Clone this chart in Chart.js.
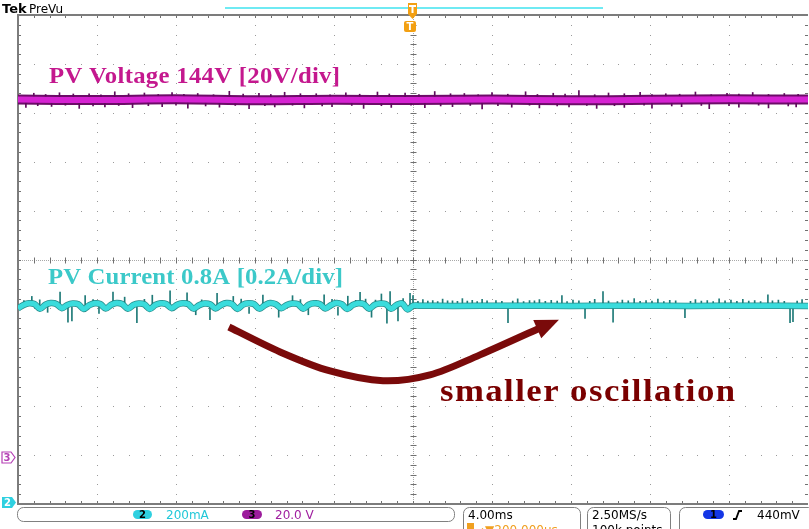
<!DOCTYPE html>
<html>
<head>
<meta charset="utf-8">
<script src="https://cdn.jsdelivr.net/npm/chart.js@4.4.1/dist/chart.umd.min.js"></script>
<style>
  html, body { margin: 0; padding: 0; background: #fff; }
  #scope { display: block; }
</style>
</head>
<body>
<canvas id="scope" width="809" height="529"></canvas>
<script>
// ---- scope settings ----
const msPerDiv = 4;          // 4.00ms
const voltsPerDiv = 20;      // ch3 20.0 V
const ampsPerDiv = 0.2;      // ch2 200mA
const ch3Offset = -3.94;     // divisions
const ch2Offset = -4.93;

// ---- ch3 : PV voltage (V) ----
const voltTimes  = [-20, -16, -12, -8, -4, 0, 4, 8, 12, 16, 20];
const voltValues = [144.2, 144.0, 144.3, 143.9, 144.1, 144.0, 144.2, 143.9, 144.1, 144.3, 144.2];
// noise spikes [time, low, high]
const voltSpikes = [
  [-19.2,144,146.8],[-17.9,144,147.0],[-16.4,144,146.6],[-15.1,144,147.4],[-13.6,144,146.9],
  [-12.2,144,147.1],[-10.9,144,146.7],[-9.3,144,147.6],[-7.8,144,146.8],[-6.5,144,147.2],
  [-4.9,144,146.6],[-3.4,144,147.0],[-1.8,144,147.3],[-0.4,144,146.9],[1.1,144,147.5],
  [2.6,144,146.7],[4.0,144,147.1],[5.7,144,147.4],[7.1,144,146.8],[8.4,144,147.9],
  [9.9,144,146.9],[11.5,144,147.2],[12.8,144,146.6],[14.3,144,147.3],[15.9,144,146.8],
  [17.2,144,147.1],[18.8,144,146.7],
  [-18.6,144,146.3],[-17.2,144,146.5],[-15.8,144,146.2],[-14.4,144,146.6],[-12.9,144,146.3],
  [-11.6,144,146.4],[-10.1,144,146.2],[-8.6,144,146.5],[-7.2,144,146.3],[-5.7,144,146.6],
  [-4.2,144,146.2],[-2.7,144,146.4],[-1.2,144,146.5],[0.3,144,146.3],[1.9,144,146.6],
  [3.3,144,146.2],[4.8,144,146.4],[6.3,144,146.3],[7.7,144,146.5],[9.2,144,146.2],
  [10.7,144,146.6],[12.1,144,146.3],[13.5,144,146.4],[15.1,144,146.2],[16.5,144,146.5],
  [18.0,144,146.3],[19.5,144,146.4],
  [-19.6,141.0,144],[-18.3,141.4,144],[-16.9,140.6,144],[-15.6,141.2,144],[-14.2,140.9,144],
  [-12.7,141.3,144],[-11.4,140.7,144],[-9.8,141.1,144],[-8.3,140.5,144],[-7.0,141.2,144],
  [-5.5,140.8,144],[-4.1,141.3,144],[-2.5,140.6,144],[-1.1,141.0,144],[0.6,140.9,144],
  [2.0,141.3,144],[3.5,140.4,144],[5.0,141.1,144],[6.4,140.8,144],[7.9,141.2,144],
  [9.3,140.6,144],[10.7,141.0,144],[12.1,140.7,144],[13.6,141.3,144],[15.0,140.5,144],
  [16.5,141.1,144],[18.0,140.8,144],[19.4,141.2,144],
  [-19.0,141.7,144],[-17.6,141.9,144],[-16.2,141.6,144],[-14.9,141.8,144],[-13.4,141.7,144],
  [-12.0,141.9,144],[-10.5,141.6,144],[-9.0,141.8,144],[-7.5,141.7,144],[-6.1,141.9,144],
  [-4.6,141.6,144],[-3.1,141.8,144],[-1.6,141.7,144],[-0.1,141.9,144],[1.4,141.6,144],
  [2.9,141.8,144],[4.3,141.7,144],[5.9,141.9,144],[7.3,141.6,144],[8.8,141.8,144],
  [10.2,141.7,144],[11.7,141.9,144],[13.1,141.6,144],[14.6,141.8,144],[16.0,141.7,144],
  [17.5,141.9,144],[19.0,141.6,144]
];

// ---- ch2 : PV current (A) ----
const currTimes = [
  -20.00,-19.72,-19.45,-19.17, -18.89,-18.61,-18.34,-18.06, -17.78,-17.50,-17.23,-16.95,
  -16.67,-16.39,-16.12,-15.84, -15.56,-15.28,-15.01,-14.73, -14.44,-14.16,-13.89,-13.61,
  -13.33,-13.05,-12.78,-12.50, -12.22,-11.94,-11.67,-11.39, -11.11,-10.83,-10.56,-10.28,
  -10.00,-9.72,-9.45,-9.17, -8.89,-8.61,-8.34,-8.06, -7.78,-7.50,-7.23,-6.95,
  -6.67,-6.39,-6.12,-5.84, -5.56,-5.28,-5.01,-4.73, -4.44,-4.16,-3.89,-3.61,
  -3.33,-3.05,-2.78,-2.50, -2.22,-1.94,-1.67,-1.39, -1.11,-0.83,-0.56,-0.28,
  0.00, 0.30, 2, 5, 8, 11, 14, 17, 20
];
const currValues = [
  0.786,0.800,0.807,0.804, 0.785,0.801,0.808,0.804, 0.787,0.800,0.806,0.803,
  0.784,0.799,0.807,0.804, 0.786,0.801,0.808,0.804, 0.785,0.800,0.806,0.803,
  0.784,0.800,0.807,0.804, 0.787,0.801,0.807,0.804, 0.785,0.799,0.806,0.803,
  0.786,0.800,0.808,0.804, 0.784,0.801,0.807,0.804, 0.785,0.799,0.808,0.803,
  0.787,0.800,0.806,0.804, 0.785,0.801,0.807,0.804, 0.786,0.799,0.808,0.803,
  0.784,0.800,0.807,0.804, 0.785,0.801,0.806,0.804, 0.785,0.800,0.807,0.782,
  0.797, 0.797, 0.796, 0.797, 0.796, 0.797, 0.796, 0.797, 0.796
];
const currSpikes = [
  [-19.3,0.800,0.835],[-18.5,0.770,0.800],[-17.87,0.800,0.853],[-17.47,0.730,0.790],[-17.27,0.735,0.790],
  [-16.6,0.800,0.838],[-15.9,0.765,0.790],[-15.19,0.800,0.853],[-14.6,0.800,0.832],[-13.98,0.728,0.790],
  [-13.2,0.800,0.840],[-12.30,0.800,0.858],[-11.44,0.800,0.850],[-11.0,0.760,0.790],[-10.28,0.740,0.790],
  [-9.92,0.800,0.848],[-9.1,0.800,0.835],[-8.3,0.765,0.790],[-7.6,0.800,0.840],[-6.8,0.750,0.790],
  [-6.1,0.800,0.838],[-5.3,0.760,0.790],[-4.5,0.800,0.842],[-3.8,0.758,0.790],[-3.3,0.800,0.836],
  [-2.68,0.800,0.852],[-2.1,0.750,0.790],[-1.6,0.800,0.845],[-1.32,0.726,0.790],[-1.16,0.800,0.855],
  [-0.76,0.735,0.790],[-0.15,0.800,0.848],
  [-19.7,0.800,0.818],[-18.9,0.800,0.821],[-18.1,0.800,0.816],[-16.2,0.800,0.822],[-14.9,0.800,0.818],
  [-13.6,0.800,0.823],[-12.7,0.800,0.817],[-10.7,0.800,0.821],[-9.5,0.800,0.819],[-8.7,0.800,0.824],
  [-7.2,0.800,0.818],[-5.7,0.800,0.822],[-4.9,0.800,0.817],[-4.1,0.800,0.823],[-2.9,0.800,0.819],
  [-2.4,0.800,0.824],[-1.9,0.800,0.820],[-0.5,0.800,0.826],
  [0.0,0.796,0.838],[0.5,0.796,0.822],[1.0,0.796,0.818],[1.5,0.796,0.824],[2.0,0.796,0.817],
  [2.5,0.796,0.826],[3.0,0.796,0.819],[3.5,0.796,0.823],[4.2,0.796,0.818],[4.81,0.728,0.790],
  [5.3,0.796,0.825],[5.9,0.796,0.818],[6.4,0.796,0.822],[7.0,0.796,0.819],[7.54,0.796,0.838],
  [8.1,0.796,0.820],[8.71,0.745,0.790],[9.2,0.796,0.823],[9.62,0.796,0.855],[10.13,0.730,0.790],
  [10.6,0.796,0.820],[11.2,0.796,0.826],[11.8,0.796,0.818],[12.4,0.796,0.824],[13.0,0.796,0.819],
  [13.77,0.748,0.790],[14.3,0.796,0.822],[14.9,0.796,0.818],[15.5,0.796,0.825],[16.1,0.796,0.820],
  [16.7,0.796,0.823],[17.3,0.796,0.818],[17.97,0.796,0.842],[18.5,0.796,0.820],[19.09,0.728,0.790],
  [19.24,0.732,0.790],[19.7,0.796,0.822],
  [0.25,0.796,0.815],[0.75,0.796,0.816],[1.25,0.796,0.814],[1.75,0.796,0.817],[2.25,0.796,0.815],
  [2.75,0.796,0.816],[3.25,0.796,0.814],[3.75,0.796,0.817],[4.5,0.796,0.815],[5.05,0.796,0.816],
  [5.6,0.796,0.814],[6.15,0.796,0.817],[6.7,0.796,0.815],[7.3,0.796,0.816],[7.8,0.796,0.814],
  [8.4,0.796,0.817],[8.95,0.796,0.815],[9.9,0.796,0.816],[10.35,0.796,0.814],[10.9,0.796,0.817],
  [11.5,0.796,0.815],[12.1,0.796,0.816],[12.7,0.796,0.814],[13.3,0.796,0.817],[14.05,0.796,0.815],
  [14.6,0.796,0.816],[15.2,0.796,0.814],[15.8,0.796,0.817],[16.4,0.796,0.815],[17.0,0.796,0.816],
  [17.6,0.796,0.814],[18.2,0.796,0.817],[18.8,0.796,0.815],[19.45,0.796,0.816]
];

// hand-drawn arrow, in (ms, div)
const arrowPath = [[-9.32,-1.38],[-6.73,-1.89],[-4.20,-2.28],[-1.52,-2.48],[0.86,-2.36],[3.39,-1.95],[6.43,-1.40]];
const arrowTip = [7.39,-1.23];

const toXY = (ts, vs) => ts.map((t, i) => ({ x: t, y: vs[i] }));
const toBars = list => list.map(s => ({ x: s[0], y: [s[1], s[2]] }));

// graticule: 10 x 10 divisions, dotted grid, ticked centre lines and frame
const graticule = {
  id: 'graticule',
  beforeDatasetsDraw(chart) {
    const { ctx, chartArea: a } = chart;
    const xs = chart.scales.x, yd = chart.scales.yDiv;
    const px = v => xs.getPixelForValue(v);
    const py = v => yd.getPixelForValue(v);
    ctx.save();
    ctx.fillStyle = '#9a9a9a';
    for (let i = -4; i <= 4; i++) {
      if (i === 0) continue;
      const X = Math.round(px(i * msPerDiv));
      for (let j = -24; j <= 24; j++) ctx.fillRect(X, Math.round(py(j / 5)), 1, 1);
    }
    for (let i = -4; i <= 4; i++) {
      if (i === 0) continue;
      const Y = Math.round(py(i));
      for (let j = -24; j <= 24; j++) ctx.fillRect(Math.round(px(j / 5 * msPerDiv)), Y, 1, 1);
    }
    // centre lines
    const cx = Math.round(px(0)) + 0.5, cy = Math.round(py(0)) + 0.5;
    ctx.strokeStyle = '#a8a8a8';
    ctx.lineWidth = 1;
    ctx.setLineDash([1, 1]);
    ctx.beginPath();
    ctx.moveTo(a.left, cy); ctx.lineTo(a.right, cy);
    ctx.moveTo(cx, a.top); ctx.lineTo(cx, a.bottom);
    ctx.stroke();
    ctx.setLineDash([]);
    ctx.strokeStyle = '#707070';
    ctx.beginPath();
    for (let j = -24; j <= 24; j++) {
      const X = Math.round(px(j / 5 * msPerDiv)) + 0.5;
      ctx.moveTo(X, cy - 3); ctx.lineTo(X, cy + 3);
      ctx.moveTo(X, a.top); ctx.lineTo(X, a.top + 3);
      ctx.moveTo(X, a.bottom); ctx.lineTo(X, a.bottom - 3);
      const Y = Math.round(py(j / 5)) + 0.5;
      ctx.moveTo(cx - 3, Y); ctx.lineTo(cx + 3, Y);
      ctx.moveTo(a.left, Y); ctx.lineTo(a.left + 3, Y);
      ctx.moveTo(a.right, Y); ctx.lineTo(a.right - 3, Y);
    }
    ctx.stroke();
    // frame
    ctx.strokeStyle = '#7c7c7c';
    ctx.lineWidth = 2;
    ctx.beginPath();
    ctx.moveTo(a.right, a.top); ctx.lineTo(a.left, a.top);
    ctx.lineTo(a.left, a.bottom); ctx.lineTo(a.right, a.bottom);
    ctx.stroke();
    ctx.restore();
  }
};

// bold serif text, widened and letter-spaced to span a given width
function spacedText(ctx, text, x, y, size, width, stretch, color) {
  ctx.save();
  ctx.translate(x, y);
  ctx.scale(stretch, 1);
  ctx.font = 'bold ' + size + 'px "Liberation Serif"';
  ctx.letterSpacing = '0px';
  const w = ctx.measureText(text).width;
  ctx.letterSpacing = Math.max(0, (width / stretch - w) / (text.length - 1)) + 'px';
  ctx.fillStyle = color;
  ctx.fillText(text, 0, 0);
  ctx.restore();
}

function tag(ctx, x, y, w, h, fill, stroke, label, textColor) {
  ctx.beginPath();
  ctx.moveTo(x, y); ctx.lineTo(x + w - 4, y); ctx.lineTo(x + w, y + h / 2);
  ctx.lineTo(x + w - 4, y + h); ctx.lineTo(x, y + h); ctx.closePath();
  ctx.fillStyle = fill; ctx.fill();
  if (stroke) { ctx.strokeStyle = stroke; ctx.lineWidth = 1.2; ctx.stroke(); }
  ctx.fillStyle = textColor;
  ctx.font = 'bold 10px "DejaVu Sans"';
  ctx.textAlign = 'center';
  ctx.fillText(label, x + (w - 3) / 2, y + h - 2);
  ctx.textAlign = 'left';
}

function pill(ctx, x, y, w, h, fill, label) {
  ctx.beginPath();
  ctx.roundRect(x, y, w, h, h / 2);
  ctx.fillStyle = fill; ctx.fill();
  ctx.fillStyle = '#000';
  ctx.font = 'bold 10px "DejaVu Sans"';
  ctx.textAlign = 'center';
  ctx.fillText(label, x + w / 2, y + h - 1);
  ctx.textAlign = 'left';
}

// labels, arrow, markers and the readout bar
const annotations = {
  id: 'annotations',
  afterDatasetsDraw(chart) {
    const { ctx } = chart;
    const xs = chart.scales.x, yd = chart.scales.yDiv;
    const P = p => [xs.getPixelForValue(p[0]), yd.getPixelForValue(p[1])];
    ctx.save();
    ctx.textBaseline = 'alphabetic';

    spacedText(ctx, 'PV Voltage 144V [20V/div]', 49, 83, 24, 291, 1.03, '#c4188e');
    spacedText(ctx, 'PV Current 0.8A [0.2A/div]', 48, 284, 24, 295, 1.03, '#3cc9c9');
    spacedText(ctx, 'smaller oscillation', 440, 401, 31, 295, 1.12, '#7a0000');

    // arrow
    const pts = arrowPath.map(P);
    ctx.strokeStyle = '#7a0a0a';
    ctx.fillStyle = '#7a0a0a';
    ctx.lineWidth = 7;
    ctx.lineCap = 'butt';
    ctx.beginPath();
    ctx.moveTo(pts[0][0], pts[0][1]);
    for (let i = 0; i < pts.length - 1; i++) {
      const p0 = pts[i - 1] || pts[i], p1 = pts[i], p2 = pts[i + 1], p3 = pts[i + 2] || pts[i + 1];
      ctx.bezierCurveTo(p1[0] + (p2[0] - p0[0]) / 6, p1[1] + (p2[1] - p0[1]) / 6,
                        p2[0] - (p3[0] - p1[0]) / 6, p2[1] - (p3[1] - p1[1]) / 6, p2[0], p2[1]);
    }
    ctx.stroke();
    const base = pts[pts.length - 1], tip = P(arrowTip);
    let dx = tip[0] - base[0], dy = tip[1] - base[1];
    const len = Math.hypot(dx, dy); dx /= len; dy /= len;
    const bx = base[0] - dx * 3, by = base[1] - dy * 3;
    ctx.beginPath();
    ctx.moveTo(tip[0], tip[1]);
    ctx.lineTo(bx - dy * 10, by + dx * 10);
    ctx.lineTo(bx + dy * 10, by - dx * 10);
    ctx.closePath();
    ctx.fill();

    // header
    ctx.fillStyle = '#000';
    ctx.font = 'bold 13px "DejaVu Sans"';
    ctx.fillText('Tek', 2, 13);
    ctx.font = '12px "DejaVu Sans"';
    ctx.fillText('PreVu', 29, 13);
    ctx.strokeStyle = '#3fe3ef';
    ctx.lineWidth = 1.5;
    ctx.beginPath(); ctx.moveTo(225, 8); ctx.lineTo(603, 8); ctx.stroke();

    // trigger position markers
    ctx.fillStyle = '#f3a012';
    ctx.fillRect(408, 3, 9, 11);
    ctx.beginPath(); ctx.moveTo(408, 14); ctx.lineTo(417, 14); ctx.lineTo(412.5, 19); ctx.closePath(); ctx.fill();
    ctx.fillStyle = '#fff';
    ctx.fillRect(409, 5, 7, 2); ctx.fillRect(411.5, 5, 2, 8);
    ctx.beginPath(); ctx.roundRect(404, 21, 12, 11, 2);
    ctx.fillStyle = '#f3a012'; ctx.fill();
    ctx.fillStyle = '#fff';
    ctx.font = 'bold 10px "DejaVu Sans"';
    ctx.fillText('T', 406.5, 30);

    // channel reference markers
    tag(ctx, 2, 452, 13, 11, '#fff', '#b540b5', '3', '#b540b5');
    tag(ctx, 2, 497, 14, 11, '#2fd0e0', null, '2', '#fff');

    // readout bar
    ctx.strokeStyle = '#808080';
    ctx.lineWidth = 1;
    ctx.beginPath(); ctx.roundRect(17.5, 507.5, 437, 14, 6); ctx.stroke();
    ctx.beginPath(); ctx.roundRect(463.5, 507.5, 117, 30, 6); ctx.stroke();
    ctx.beginPath(); ctx.roundRect(587.5, 507.5, 83, 30, 6); ctx.stroke();
    ctx.beginPath(); ctx.roundRect(679.5, 507.5, 135, 30, 6); ctx.stroke();

    pill(ctx, 133, 510, 19, 9, '#2fd0e0', '2');
    pill(ctx, 242, 510, 20, 9, '#9c1c9c', '3');
    pill(ctx, 703, 510, 21, 9, '#1436e6', '1');

    ctx.font = '12px "DejaVu Sans"';
    ctx.fillStyle = '#22c8d8';
    ctx.fillText('200mA', 166, 519);
    ctx.fillStyle = '#a020a0';
    ctx.fillText('20.0 V', 275, 519);
    ctx.fillStyle = '#000';
    ctx.fillText('4.00ms', 468, 519);
    ctx.fillText('2.50MS/s', 592, 519);
    ctx.fillText('440mV', 757, 519);
    ctx.fillText('100k points', 592, 534);
    ctx.fillStyle = '#f0a020';
    ctx.fillRect(467, 523, 7, 8);
    ctx.fillText('→▼200.000us', 475, 534);

    ctx.strokeStyle = '#000';
    ctx.lineWidth = 1.8;
    ctx.beginPath();
    ctx.moveTo(733, 519); ctx.lineTo(736, 519); ctx.lineTo(739, 511); ctx.lineTo(742, 511);
    ctx.stroke();
    ctx.restore();
  }
};

const line = (data, axis, color, width, order) => ({
  type: 'line', data, yAxisID: axis, borderColor: color, borderWidth: width,
  pointRadius: 0, tension: 0.35, fill: false, order
});
const bars = (data, axis, color, order) => ({
  type: 'bar', data, yAxisID: axis, backgroundColor: color, borderWidth: 0,
  barThickness: 1, grouped: false, order
});

new Chart(document.getElementById('scope'), {
  type: 'line',
  data: {
    datasets: [
      line(toXY(voltTimes, voltValues), 'yV', '#d622d2', 6, 0),
      bars(toBars(voltSpikes), 'yV', '#5e0a5c', 1),
      line(toXY(voltTimes, voltValues), 'yV', '#6c0c68', 10, 2),
      line(toXY(currTimes, currValues), 'yA', '#3adcdc', 5, 0),
      bars(toBars(currSpikes), 'yA', '#1f7a78', 1),
      line(toXY(currTimes, currValues), 'yA', '#2a8e8c', 6.5, 2)
    ]
  },
  options: {
    responsive: false,
    animation: false,
    events: [],
    layout: { padding: { left: 18, right: 1, top: 15, bottom: 25 } },
    plugins: { legend: { display: false }, tooltip: { enabled: false } },
    scales: {
      x: { type: 'linear', offset: false, min: -5 * msPerDiv, max: 5 * msPerDiv, display: false },
      yDiv: { type: 'linear', min: -5, max: 5, display: false },
      yV: { type: 'linear', min: (-5 - ch3Offset) * voltsPerDiv, max: (5 - ch3Offset) * voltsPerDiv, display: false },
      yA: { type: 'linear', min: (-5 - ch2Offset) * ampsPerDiv, max: (5 - ch2Offset) * ampsPerDiv, display: false }
    }
  },
  plugins: [graticule, annotations]
});
</script>
</body>
</html>
